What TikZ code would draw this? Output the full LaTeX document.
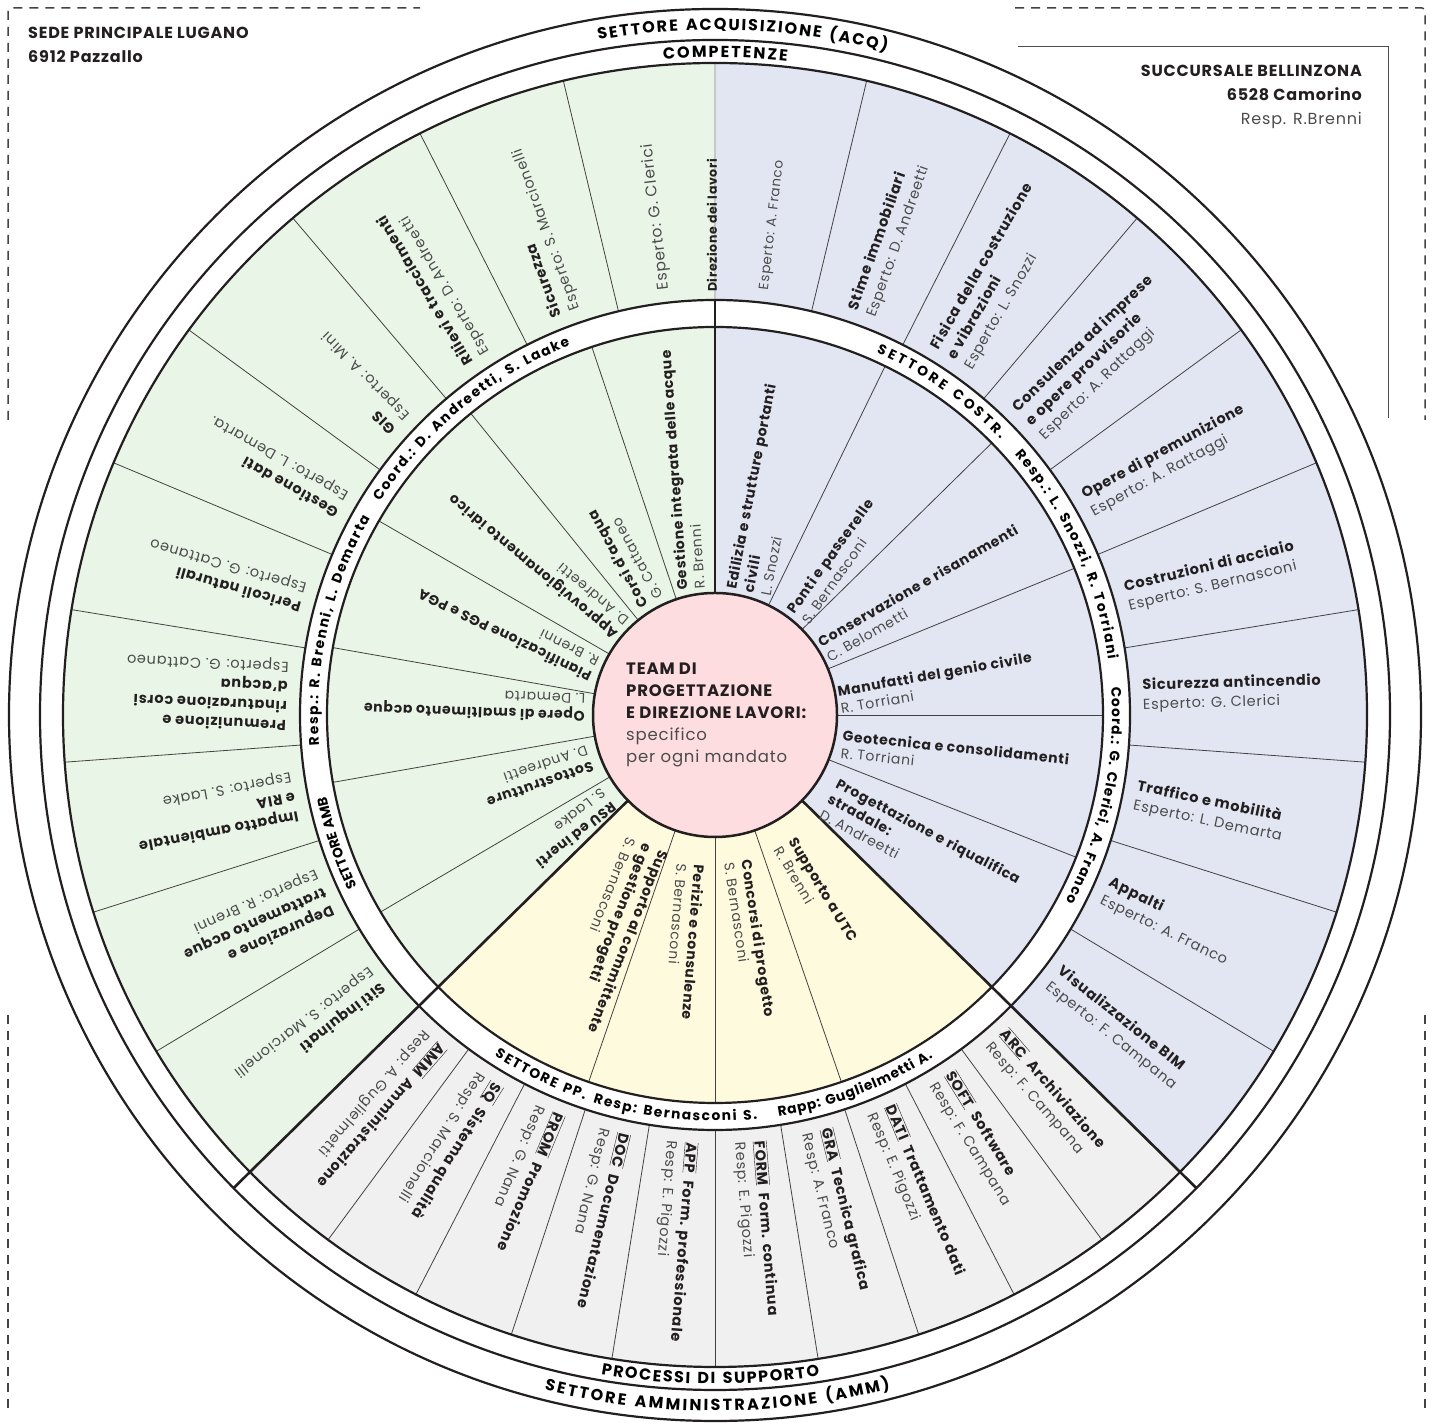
\documentclass[tikz,border=0pt]{standalone}
\usepackage{fontspec}
\setmainfont{Poppins}[LetterSpace=5]
\usetikzlibrary{decorations.text}
\definecolor{grn}{RGB}{233,245,231}
\definecolor{blu}{RGB}{225,230,242}
\definecolor{gry}{RGB}{240,240,240}
\definecolor{yel}{RGB}{254,250,222}
\definecolor{pnk}{RGB}{253,221,224}
\definecolor{ink}{RGB}{35,31,32}
\definecolor{lite}{RGB}{75,75,75}
\newcommand\nm[1]{\textcolor{lite}{#1}}
\newcommand\abb[1]{$\overline{\underline{\mbox{\bfseries #1}}}$}
\newcommand\blk[6]{\node[#4,rotate=#3,anchor=west] (#6) at ([shift={(#1:#2)}]C) {#5};}
\newcommand\rfo{\bfseries\fontsize{16}{16}\selectfont}
\newcommand\rfi{\bfseries\fontsize{13.8}{14}\selectfont}
\newcommand\ringfit[5]{\path[decorate,decoration={text along path,text align={fit to path},text={|#4|#5}}] ([shift={(#1:#3)}]C) arc[start angle=#1,end angle=#2,radius=#3];}
\begin{document}
\begin{tikzpicture}[x=1pt,y=1pt,
 ot/.style={align=left,inner sep=0pt,text=ink,font=\fontsize{14.5}{19.5}\selectfont},
 it/.style={align=left,inner sep=0pt,text=ink,font=\fontsize{14}{17.5}\selectfont},
 divl/.style={draw=ink!85,line width=0.8pt},
 bound/.style={draw=ink,line width=2.6pt},
 circ/.style={draw=ink,line width=2.2pt},
 dashbox/.style={draw=ink!85,line width=1.5pt,dash pattern=on 9pt off 7pt},
 hdr/.style={inner sep=0pt,text=ink,font=\bfseries\fontsize{16}{18}\selectfont},
 ctr/.style={inner sep=0pt,text=ink,anchor=base west,font=\fontsize{16.5}{20}\selectfont}]
\useasboundingbox (0,0) rectangle (1435,1423);
\fill[white] (0,0) rectangle (1435,1423);
\coordinate (C) at (715,708);
% inner fills
\fill[grn] (C) -- ([shift={(90:388)}]C) arc[start angle=90,end angle=224.5,radius=388] -- cycle;
\fill[yel] (C) -- ([shift={(224.5:388)}]C) arc[start angle=224.5,end angle=315.5,radius=388] -- cycle;
\fill[blu] (C) -- ([shift={(-44.5:388)}]C) arc[start angle=-44.5,end angle=90,radius=388] -- cycle;
% outer fills
\fill[grn] ([shift={(90:415)}]C) arc[start angle=90,end angle=224.5,radius=415] -- ([shift={(224.5:652)}]C) arc[start angle=224.5,end angle=90,radius=652] -- cycle;
\fill[gry] ([shift={(224.5:415)}]C) arc[start angle=224.5,end angle=315.5,radius=415] -- ([shift={(315.5:652)}]C) arc[start angle=315.5,end angle=224.5,radius=652] -- cycle;
\fill[blu] ([shift={(-44.5:415)}]C) arc[start angle=-44.5,end angle=90,radius=415] -- ([shift={(90:652)}]C) arc[start angle=90,end angle=-44.5,radius=652] -- cycle;
% dividers
\foreach \a in {103.45,116.9,130.35,143.8,157.25,170.7,184.15,197.6,211.05,76.55,63.1,49.65,36.2,22.75,9.3,-4.15,-17.6,-31.05,233.6,242.7,251.8,260.9,270,279.1,288.2,297.3,306.4}
  \draw[divl] ([shift={(\a:415)}]C) -- ([shift={(\a:652)}]C);
\foreach \a in {108.5,129,150,170,190,210.5,64,44.5,22.2,0,-21.5,251,270,289}
  \draw[divl] ([shift={(\a:122)}]C) -- ([shift={(\a:388)}]C);
\draw[draw=black!22,line width=2pt] ([shift={(90:415)}]C) -- ([shift={(90:652)}]C);
\draw[bound] ([shift={(90:122)}]C) -- ([shift={(90:415)}]C);
\draw[bound] ([shift={(224.5:122)}]C) -- ([shift={(224.5:675)}]C);
\draw[bound] ([shift={(315.5:122)}]C) -- ([shift={(315.5:675)}]C);
% circles
\foreach \r in {388,415,652,675,706} \draw[circ] (C) circle[radius=\r];
\filldraw[fill=pnk,draw=ink,line width=2.5pt] (C) circle[radius=122];
% ring labels
\ringfit{99.8}{75.5}{685}{\rfo}{SETTORE ACQUISIZIONE (ACQ)}
\ringfit{94.5}{83.7}{658}{\rfo}{COMPETENZE}
\ringfit{260.2}{279}{669}{\rfo}{PROCESSI DI SUPPORTO}
\ringfit{255.8}{284.6}{696}{\rfo}{SETTORE AMMINISTRAZIONE (AMM)}
\ringfit{66}{44}{397}{\rfi}{SETTORE COSTR.}
\ringfit{41}{8}{397}{\rfi}{Resp.: L. Snozzi, R. Torriani}
\ringfit{4}{-28}{397}{\rfi}{Coord.: G. Clerici, A. Franco}
\ringfit{205.6}{192.4}{397}{\rfi}{SETTORE AMB.}
\ringfit{184.4}{150.3}{397}{\rfi}{Resp.: R. Brenni, L. Demarta}
\ringfit{147.5}{111.4}{397}{\rfi}{Coord.: D. Andreetti, S. Laake}
\ringfit{237.1}{251.3}{406}{\rfi}{SETTORE PP.}
\ringfit{252.5}{276}{406}{\rfi}{Resp: Bernasconi S.}
\ringfit{279}{302.5}{406}{\rfi}{Rapp: Guglielmetti A.}
% outer green
\node[ot,rotate=90,anchor=west,font=\bfseries\fontsize{12.5}{14}\selectfont] (dirlav) at (712,1131) {Direzione dei lavori};
\blk{96.7}{428}{96.7}{ot,font=\fontsize{15.5}{19.5}\selectfont}{\nm{Esperto: G. Clerici}}{og1}
\blk{110.2}{428}{110.2}{ot}{\textbf{Sicurezza}\\\nm{Esperto: S. Marcionelli}}{og2}
\blk{123.6}{428}{121}{ot}{\textbf{Rilievi e tracciamenti}\\\nm{Esperto: D. Andreetti}}{og3}
\blk{137.1}{428}{135}{ot}{\textbf{GIS}\\\nm{Esperto: A. Mini}}{og4}
\blk{150.5}{428}{150.5}{ot}{\textbf{Gestione dati}\\\nm{Esperto: L. Demarta.}}{og5}
\blk{164}{428}{164}{ot}{\textbf{Pericoli naturali}\\\nm{Esperto: G. Cattaneo}}{og6}
\blk{177.4}{428}{177.4}{ot}{\textbf{Premunizione e}\\\textbf{rinaturazione corsi}\\\textbf{d'acqua}\\\nm{Esperto: G. Cattaneo}}{og7}
\blk{190.9}{428}{190.9}{ot}{\textbf{Impatto ambientale}\\\textbf{e RIA}\\\nm{Esperto: S. Laake}}{og8}
\blk{204.3}{428}{204.3}{ot}{\textbf{Depurazione e}\\\textbf{trattamento acque}\\\nm{Esperto: R. Brenni}}{og9}
\blk{217.8}{428}{217.8}{ot}{\textbf{Siti inquinati}\\\nm{Esperto: S. Marcionelli}}{og10}
% outer blue
\blk{83.3}{428}{83.3}{ot,font=\fontsize{13.5}{19.5}\selectfont}{\nm{Esperto: A. Franco}}{ob1}
\blk{69.8}{428}{70.5}{ot}{\textbf{Stime immobiliari}\\\nm{Esperto: D. Andreetti}}{ob2}
\blk{56.4}{428}{60}{ot}{\textbf{Fisica della costruzione}\\\textbf{e vibrazioni}\\\nm{Esperto: L. Snozzi}}{ob3}
\blk{42.9}{428}{44}{ot}{\textbf{Consulenza ad imprese}\\\textbf{e opere provvisorie}\\\nm{Esperto: A. Rattaggi}}{ob4}
\blk{29.5}{428}{28.6}{ot}{\textbf{Opere di premunizione}\\\nm{Esperto: A. Rattaggi}}{ob5}
\blk{16}{428}{13.5}{ot}{\textbf{Costruzioni di acciaio}\\\nm{Esperto: S. Bernasconi}}{ob6}
\blk{2.6}{428}{1.6}{ot}{\textbf{Sicurezza antincendio}\\\nm{Esperto: G. Clerici}}{ob7}
\blk{-10.9}{428}{-12}{ot}{\textbf{Traffico e mobilità}\\\nm{Esperto: L. Demarta}}{ob8}
\blk{-24.3}{428}{-26}{ot}{\textbf{Appalti}\\\nm{Esperto: A. Franco}}{ob9}
\blk{-37.8}{428}{-38.5}{ot}{\textbf{Visualizzazione BIM}\\\nm{Esperto: F. Campana}}{ob10}
% outer gray
\blk{229.05}{428}{229.05}{ot}{\abb{AMM}\hspace{8pt}\textbf{Amministrazione}\\\nm{Resp: A. Guglielmetti}}{op1}
\blk{238.15}{428}{238.15}{ot}{\abb{SQ}\hspace{8pt}\textbf{Sistema qualità}\\\nm{Resp: S. Marcionelli}}{op2}
\blk{247.25}{428}{247.25}{ot}{\abb{PROM}\hspace{8pt}\textbf{Promozione}\\\nm{Resp: G. Nana}}{op3}
\blk{256.35}{428}{256.35}{ot}{\abb{DOC}\hspace{8pt}\textbf{Documentazione}\\\nm{Resp: G. Nana}}{op4}
\blk{265.45}{428}{265.45}{ot}{\abb{APP}\hspace{8pt}\textbf{Form. professionale}\\\nm{Resp: E. Pigozzi}}{op5}
\blk{274.55}{428}{274.55}{ot}{\abb{FORM}\hspace{8pt}\textbf{Form. continua}\\\nm{Resp: E. Pigozzi}}{op6}
\blk{283.65}{428}{283.65}{ot}{\abb{GRA}\hspace{8pt}\textbf{Tecnica grafica}\\\nm{Resp: A. Franco}}{op7}
\blk{292.75}{428}{292.75}{ot}{\abb{DATI}\hspace{8pt}\textbf{Trattamento dati}\\\nm{Resp: E. Pigozzi}}{op8}
\blk{301.85}{428}{301.85}{ot}{\abb{SOFT}\hspace{8pt}\textbf{Software}\\\nm{Resp: F. Campana}}{op9}
\blk{310.95}{428}{310.95}{ot}{\abb{ARC}\hspace{8pt}\textbf{Archiviazione}\\\nm{Resp: F. Campana}}{op10}
% inner green
\blk{101}{128}{94}{it}{\textbf{Gestione integrata delle acque}\\\nm{R. Brenni}}{ig1}
\blk{119.7}{129}{119}{it}{\textbf{Corsi d'acqua}\\\nm{G. Cattaneo}}{ig2}
\blk{138}{127}{140}{it}{\textbf{Approvvigionamento idrico}\\\nm{D. Andreetti}}{ig3}
\blk{159.6}{129}{154}{it}{\textbf{Pianificazione PGS e PGA}\\\nm{R. Brenni}}{ig4}
\blk{177}{130}{178}{it}{\textbf{Opere di smaltimento acque}\\\nm{L. Demarta}}{ig5}
\blk{199}{132}{199}{it}{\textbf{Sottostrutture}\\\nm{D. Andreetti}}{ig6}
\blk{218.5}{135}{218}{it}{\textbf{RSU ed inerti}\\\nm{S. Laake}}{ig7}
% inner yellow
\blk{242.7}{146}{248.5}{it}{\textbf{Supporto al committente}\\\textbf{e gestione progetti}\\\nm{S. Bernasconi}}{iy1}
\blk{260.8}{151}{265.5}{it}{\textbf{Perizie e consulenze}\\\nm{S. Bernasconi}}{iy2}
\blk{279}{148}{278.5}{it}{\textbf{Concorsi di progetto}\\\nm{S. Bernasconi}}{iy3}
\blk{298.7}{146}{301}{it}{\textbf{Supporto a UTC}\\\nm{R. Brenni}}{iy4}
% inner blue
\blk{75}{127}{79}{it}{\textbf{Edilizia e strutture portanti}\\\textbf{civili}\\\nm{L. Snozzi}}{ib1}
\blk{50}{128}{54.5}{it}{\textbf{Ponti e passerelle}\\\nm{S. Bernasconi}}{ib2}
\blk{31}{126}{30}{it}{\textbf{Conservazione e risanamenti}\\\nm{C. Belometti}}{ib3}
\blk{7}{125}{10}{it}{\textbf{Manufatti del genio civile}\\\nm{R. Torriani}}{ib4}
\blk{-12.9}{130}{-6}{it}{\textbf{Geotecnica e consolidamenti}\\\nm{R. Torriani}}{ib5}
\blk{-36}{141}{-28}{it}{\textbf{Progettazione e riqualifica}\\\textbf{stradale:}\\\nm{D. Andreetti}}{ib6}
% centre
\node[ctr] (t1) at (626,748) {\textbf{TEAM DI}};
\node[ctr] (t2) at (626,726) {\textbf{PROGETTAZIONE}};
\node[ctr] (t3) at (626,704) {\textbf{E DIREZIONE LAVORI:}};
\node[ctr,text=lite] (t4) at (626,682) {specifico};
\node[ctr,text=lite] (t5) at (626,660) {per ogni mandato};
% headers
\draw[dashbox,rounded corners=3pt] (8,1003) -- (8,1415) -- (420,1415);
\draw[dashbox,rounded corners=3pt] (1015,1415) -- (1425,1415) -- (1425,1003);
\draw[dashbox] (8,408) -- (8,8);
\draw[dashbox] (1425,408) -- (1425,8);
\draw[draw=ink!80,line width=0.9pt] (1018,1377) -- (1388,1377) -- (1388,1005);
\node[hdr,anchor=base west] (sede) at (28,1384) {SEDE PRINCIPALE LUGANO};
\node[hdr,anchor=base west] (pazz) at (28,1360.5) {6912 Pazzallo};
\node[hdr,anchor=base east] (succ) at (1362,1346) {SUCCURSALE BELLINZONA};
\node[hdr,anchor=base east] (cam) at (1362,1322) {6528 Camorino};
\node[hdr,anchor=base east,text=lite,font=\fontsize{16}{18}\selectfont] (rbr) at (1362,1298) {Resp. R.Brenni};
\end{tikzpicture}
\end{document}
